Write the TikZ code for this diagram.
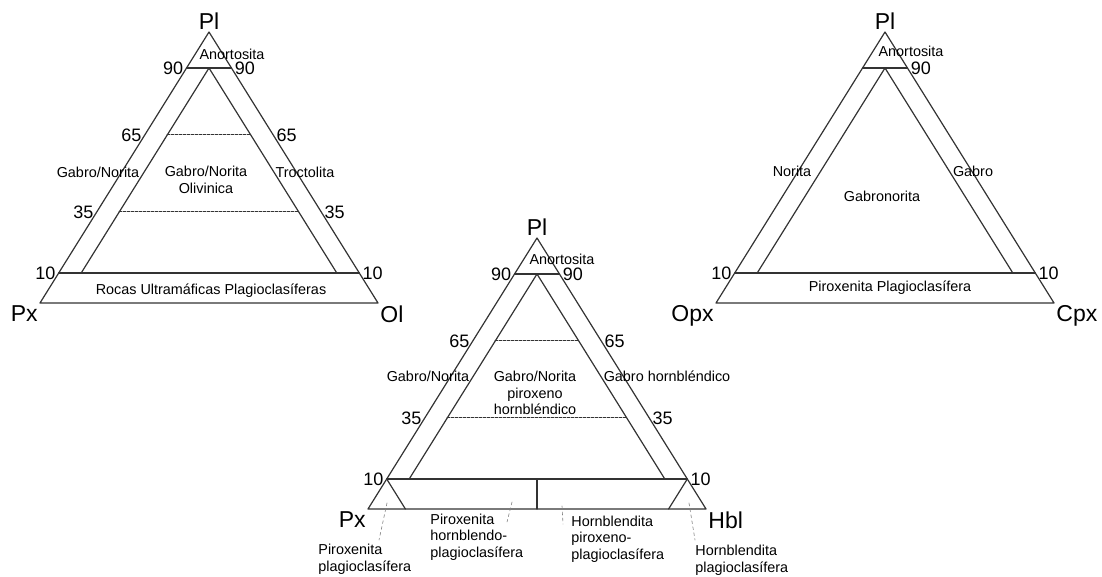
\documentclass[tikz,border=0pt]{standalone}
\usepackage{fontspec}
\setmainfont{Liberation Sans}
\usepackage{tkz-euclide}

\tikzset{
  side/.style={line width=0.6pt, black!80},
  lvl/.style={line width=0.5pt, black!80, dash pattern=on 1.2pt off 0.8pt},
  ldr/.style={line width=0.3pt, gray, dash pattern=on 1.5pt off 1.5pt},
  lbl/.style={font=\fontsize{7.2}{8.3}\selectfont, align=center, inner sep=0pt},
  num/.style={font=\fontsize{9}{10}\selectfont, inner xsep=1.5pt, inner ysep=0pt},
  vtx/.style={font=\fontsize{11.5}{13}\selectfont, inner sep=1pt}
}

\begin{document}
\begin{tikzpicture}[x=0.5pt, y=0.5pt]
    \useasboundingbox (0,0) rectangle (1102,577);
    % Pl - Px - Ol
    \begin{scope}[shift={(40,274)}]
    \tkzDefPoints{0/0/A1, 338/0/B1, 169/271/C1, 18.7/30/P1, 319.3/30/Q1, 146.5/235/U1, 191.5/235/V1}
    \tkzDefPoints{41.2/30/I1, 296.8/30/J1, 169/235/K1}
    \tkzDefPoints{127.2/168/D1, 210.8/168/E1, 79.2/91/F1, 258.8/91/G1}
    \tkzDefPoints{104.8/168/H1, 233.2/168/W1, 56.7/91/X1, 281.3/91/Y1}
    \tkzDrawPolygon[side](A1,B1,C1)
    \tkzDrawPolygon[side](I1,J1,K1)
    \tkzDrawSegments[side](P1,Q1 U1,V1)
    \tkzDrawSegments[lvl](D1,E1 F1,G1)
    \node[vtx, anchor=south] (plA) at (C1) {Pl};
    \node[vtx, anchor=north east] (pxA) at (A1) {Px};
    \node[vtx, anchor=north west] (olA) at (B1) {Ol};
    \node[num, anchor=east] (n90a) at (U1) {90};
    \node[num, anchor=west] (n90b) at (V1) {90};
    \node[num, anchor=east] (n65a) at (H1) {65};
    \node[num, anchor=west] (n65b) at (W1) {65};
    \node[num, anchor=east] (n35a) at (X1) {35};
    \node[num, anchor=west] (n35b) at (Y1) {35};
    \node[num, anchor=east] (n10a) at (P1) {10};
    \node[num, anchor=west] (n10b) at (Q1) {10};
    \node[lbl] (anA) at (192,249) {Anortosita};
    \node[lbl] (gnA) at (58,131) {Gabro/Norita};
    \node[lbl] (goA) at (166,123) {Gabro/Norita\\Olivinica};
    \node[lbl] (trA) at (265,131) {Troctolita};
    \node[lbl] (ruA) at (171,12) {Rocas Ultramáficas Plagioclasíferas};
    \end{scope}

    % Pl - Px - Hbl
    \begin{scope}[shift={(368,68)}]
    \tkzDefPoints{0/0/A2, 338/0/B2, 169/271/C2, 18.7/30/P2, 319.3/30/Q2, 146.5/235/U2, 191.5/235/V2}
    \tkzDefPoints{41.2/30/I2, 296.8/30/J2, 169/235/K2}
    \tkzDefPoints{127.2/168/D2, 210.8/168/E2, 79.2/91/F2, 258.8/91/G2}
    \tkzDefPoints{104.8/168/H2, 233.2/168/W2, 56.7/91/X2, 281.3/91/Y2}
    \tkzDefPoints{169/30/M2, 169/0/N2, 37.4/0/S2, 300.6/0/T2}
    \tkzDefPoints{19/6/a2, 11/-31/b2, 144/7/c2, 139/-13/d2, 194/3/e2, 195/-15/f2, 321/6/g2, 327/-31/h2}
    \tkzDrawPolygon[side](A2,B2,C2)
    \tkzDrawPolygon[side](I2,J2,K2)
    \tkzDrawSegments[side](P2,Q2 U2,V2 M2,N2 P2,S2 Q2,T2)
    \tkzDrawSegments[lvl](D2,E2 F2,G2)
    \tkzDrawSegments[ldr](a2,b2 c2,d2 e2,f2 g2,h2)
    \node[vtx, anchor=south] (plB) at (C2) {Pl};
    \node[vtx, anchor=north east] (pxB) at (A2) {Px};
    \node[vtx, anchor=north west] (hbB) at (B2) {Hbl};
    \node[num, anchor=east] (n90c) at (U2) {90};
    \node[num, anchor=west] (n90d) at (V2) {90};
    \node[num, anchor=east] (n65c) at (H2) {65};
    \node[num, anchor=west] (n65d) at (W2) {65};
    \node[num, anchor=east] (n35c) at (X2) {35};
    \node[num, anchor=west] (n35d) at (Y2) {35};
    \node[num, anchor=east] (n10c) at (P2) {10};
    \node[num, anchor=west] (n10d) at (Q2) {10};
    \node[lbl] (anB) at (194,250) {Anortosita};
    \node[lbl] (gnB) at (60,133) {Gabro/Norita};
    \node[lbl] (gpB) at (167,116) {Gabro/Norita\\piroxeno\\hornbléndico};
    \node[lbl] (ghB) at (299,133) {Gabro hornbléndico};
    \node[lbl, align=left, anchor=west] (ppB) at (-50,-50) {Piroxenita\\plagioclasífera};
    \node[lbl, align=left, anchor=west] (phB) at (62,-28) {Piroxenita\\hornblendo-\\plagioclasífera};
    \node[lbl, align=left, anchor=west] (hpB) at (203,-30) {Hornblendita\\piroxeno-\\plagioclasífera};
    \node[lbl, align=left, anchor=west] (hlB) at (327,-51) {Hornblendita\\plagioclasífera};
    \end{scope}

    % Pl - Opx - Cpx
    \begin{scope}[shift={(716,274)}]
    \tkzDefPoints{0/0/A3, 338/0/B3, 169/271/C3, 18.7/30/P3, 319.3/30/Q3, 146.5/235/U3, 191.5/235/V3}
    \tkzDefPoints{41.2/30/I3, 296.8/30/J3, 169/235/K3}
    \tkzDrawPolygon[side](A3,B3,C3)
    \tkzDrawPolygon[side](I3,J3,K3)
    \tkzDrawSegments[side](P3,Q3 U3,V3)
    \node[vtx, anchor=south] (plC) at (C3) {Pl};
    \node[vtx, anchor=north east] (opC) at (A3) {Opx};
    \node[vtx, anchor=north west] (cpC) at (B3) {Cpx};
    \node[num, anchor=west] (n90e) at (V3) {90};
    \node[num, anchor=east] (n10e) at (P3) {10};
    \node[num, anchor=west] (n10f) at (Q3) {10};
    \node[lbl] (anC) at (195,252) {Anortosita};
    \node[lbl] (noC) at (76,132) {Norita};
    \node[lbl] (gaC) at (257,132) {Gabro};
    \node[lbl] (gbC) at (166,107) {Gabronorita};
    \node[lbl] (ppC) at (174,15) {Piroxenita Plagioclasífera};
    \end{scope}
\end{tikzpicture}
\end{document}
